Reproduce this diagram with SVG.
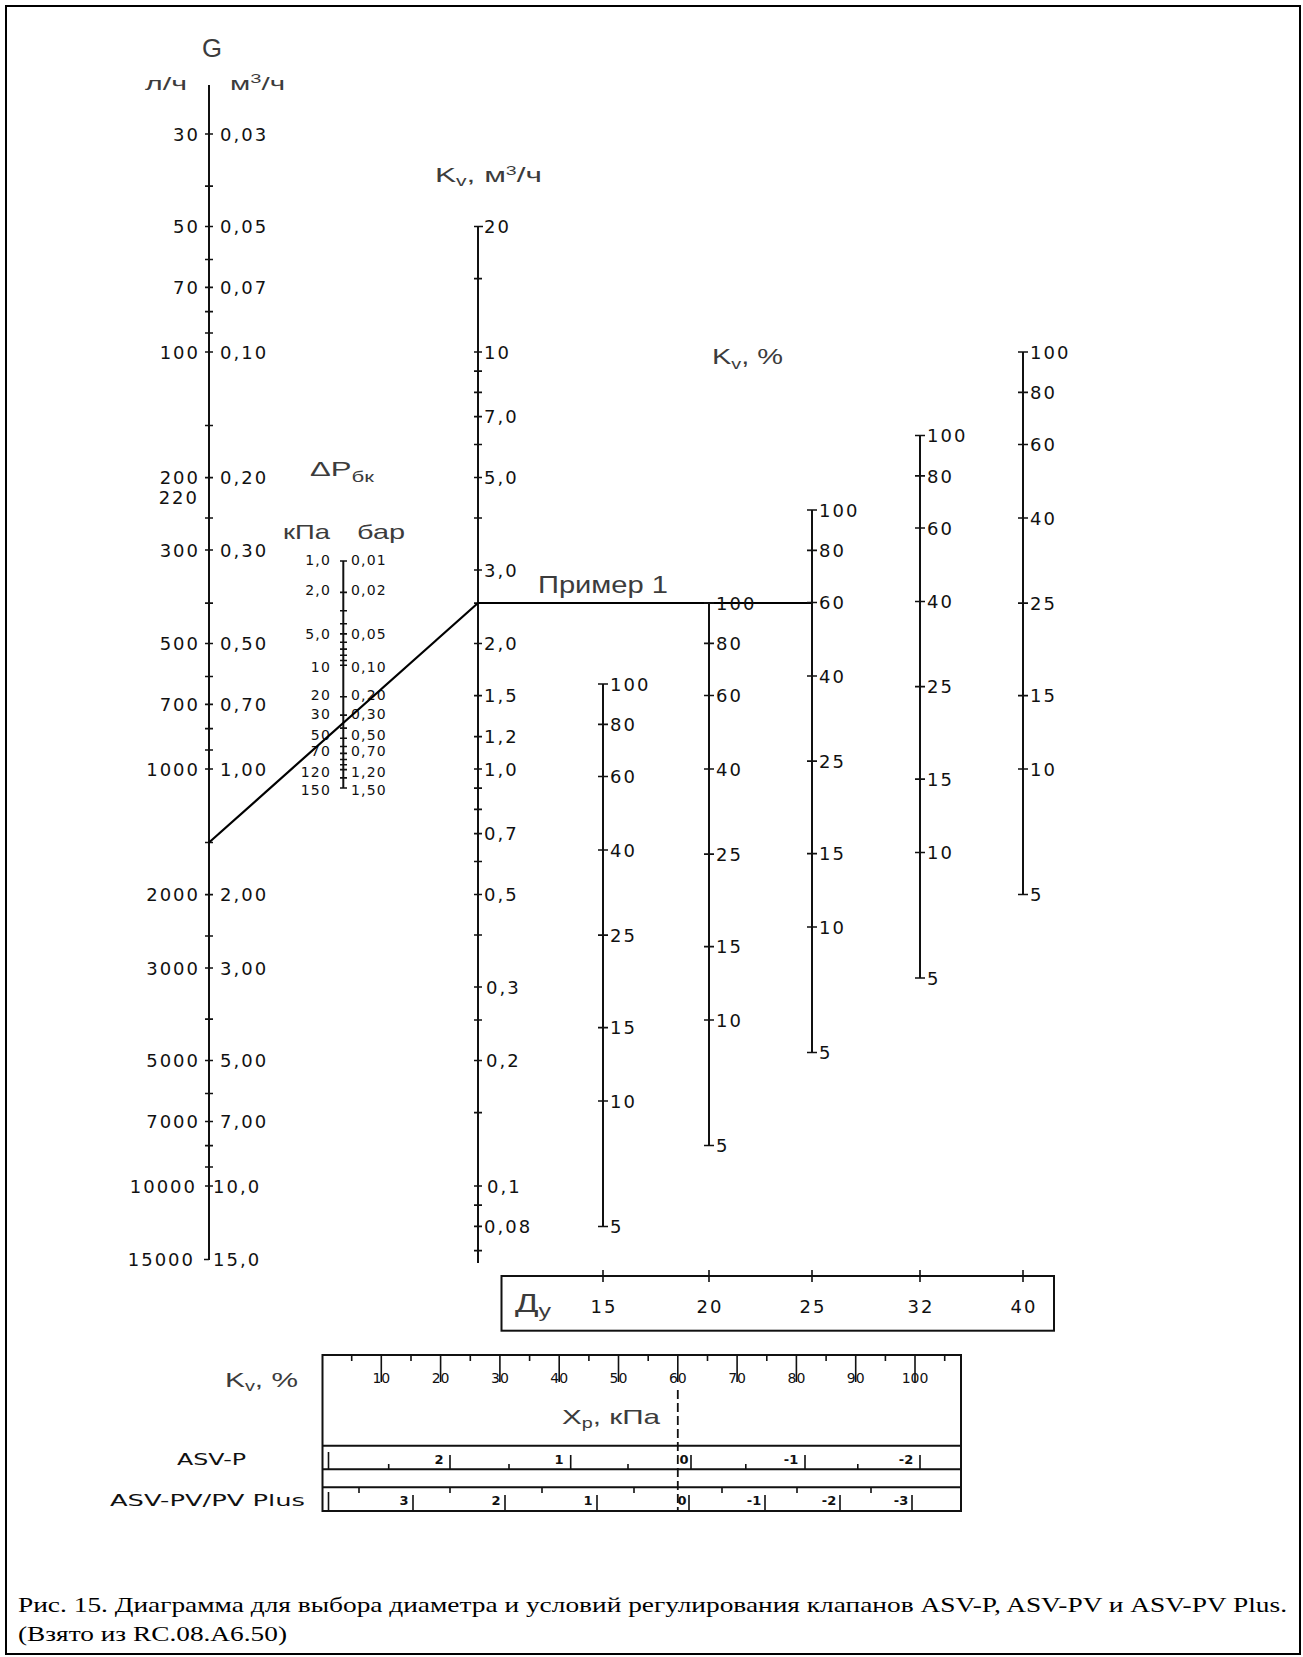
<svg xmlns="http://www.w3.org/2000/svg" width="1303" height="1657" viewBox="0 0 1303 1657">
<style>
.ax{stroke:#111;stroke-width:2;fill:none}
.tk{stroke:#111;stroke-width:1.6;fill:none}
.n{font-family:"DejaVu Sans",sans-serif;font-size:18px;letter-spacing:2px;fill:#111}
.ne{text-anchor:end}
.s{font-family:"DejaVu Sans",sans-serif;font-size:14px;letter-spacing:1.2px;fill:#111}
.sm{font-family:"DejaVu Sans",sans-serif;font-size:14px;fill:#111;text-anchor:middle}
.b{font-family:"DejaVu Sans",sans-serif;font-size:13px;font-weight:bold;fill:#111;text-anchor:middle}
.g{font-family:"Liberation Sans",Arial,sans-serif;fill:#3c3c3c}
.cap{font-family:"Liberation Serif","Times New Roman",serif;font-size:22px;fill:#000}
</style>
<rect x="0" y="0" width="1303" height="1657" fill="#fff"/>
<rect x="6" y="6" width="1294" height="1648" fill="none" stroke="#000" stroke-width="2"/>

<g id="axis-G">
<path class="ax" d="M209 85V1260"/>
<path class="tk" d="M205 134H213M205 186.1H213M205 226.5H213M205 259.5H213M205 287.4H213M205 311.6H213M205 333H213M205 352H213M205 425.5H213M205 477.6H213M205 518H213M205 550H213M205 603.1H213M205 643.5H213M205 676.5H213M205 704.4H213M205 728.6H213M205 750H213M205 769H213M205 842.5H213M205 894.6H213M205 936H213M205 968H213M205 1019.1H213M205 1060.5H213M205 1093.5H213M205 1121.5H213M205 1145.6H213M205 1167H213M205 1186H213M204 1259.5H209"/>
<text class="g" x="202" y="57" font-size="25" textLength="20" lengthAdjust="spacingAndGlyphs">G</text>
<text class="g" x="145" y="90" font-size="19" textLength="42" lengthAdjust="spacingAndGlyphs">л/ч</text>
<text class="g" x="230" y="90" font-size="19" textLength="55" lengthAdjust="spacingAndGlyphs">м<tspan font-size="13" dy="-7">3</tspan><tspan dy="7">/ч</tspan></text>
<g class="n ne">
<text x="200" y="140.5">30</text>
<text x="200" y="233">50</text>
<text x="200" y="294">70</text>
<text x="200" y="358.5">100</text>
<text x="200" y="484">200</text>
<text x="199" y="504">220</text>
<text x="200" y="556.5">300</text>
<text x="200" y="650">500</text>
<text x="200" y="711">700</text>
<text x="200" y="775.5">1000</text>
<text x="200" y="901">2000</text>
<text x="200" y="974.5">3000</text>
<text x="200" y="1067">5000</text>
<text x="200" y="1128">7000</text>
<text x="197" y="1192.5">10000</text>
<text x="195" y="1266">15000</text>
</g>
<g class="n">
<text x="220" y="140.5">0,03</text>
<text x="220" y="233">0,05</text>
<text x="220" y="294">0,07</text>
<text x="220" y="358.5">0,10</text>
<text x="220" y="484">0,20</text>
<text x="220" y="556.5">0,30</text>
<text x="220" y="650">0,50</text>
<text x="220" y="711">0,70</text>
<text x="220" y="775.5">1,00</text>
<text x="220" y="901">2,00</text>
<text x="220" y="974.5">3,00</text>
<text x="220" y="1067">5,00</text>
<text x="220" y="1128">7,00</text>
<text x="213" y="1192.5">10,0</text>
<text x="213" y="1266">15,0</text>
</g>
</g>

<g id="axis-dP">
<text class="g" x="310" y="476" font-size="21" textLength="64" lengthAdjust="spacingAndGlyphs">ΔP<tspan font-size="15" dy="6">бк</tspan></text>
<text class="g" x="283" y="539" font-size="21" textLength="47" lengthAdjust="spacingAndGlyphs">кПа</text>
<text class="g" x="357" y="539" font-size="21" textLength="48" lengthAdjust="spacingAndGlyphs">бар</text>
<path class="ax" d="M343.3 561V788" stroke-width="1.8"/>
<path class="tk" d="M340 561H347M340 592.4H347M340 610.8H347M340 623.8H347M340 633.9H347M340 642.2H347M340 649.1H347M340 655.2H347M340 660.5H347M340 665.3H347M340 696.7H347M340 715.1H347M340 728.1H347M340 738.2H347M340 746.5H347M340 753.4H347M340 759.5H347M340 764.8H347M340 769.6H347M340 777.9H347M340 788H347" stroke-width="1.3"/>
<g class="s" text-anchor="end">
<text x="331" y="565">1,0</text>
<text x="331" y="595">2,0</text>
<text x="331" y="639">5,0</text>
<text x="331" y="672">10</text>
<text x="331" y="700">20</text>
<text x="331" y="719">30</text>
<text x="331" y="740">50</text>
<text x="331" y="756">70</text>
<text x="331" y="777">120</text>
<text x="331" y="795">150</text>
</g>
<g class="s">
<text x="351" y="565">0,01</text>
<text x="351" y="595">0,02</text>
<text x="351" y="639">0,05</text>
<text x="351" y="672">0,10</text>
<text x="351" y="700">0,20</text>
<text x="351" y="719">0,30</text>
<text x="351" y="740">0,50</text>
<text x="351" y="756">0,70</text>
<text x="351" y="777">1,20</text>
<text x="351" y="795">1,50</text>
</g>
</g>

<g id="axis-Kv">
<text class="g" x="435" y="182" font-size="21" textLength="107" lengthAdjust="spacingAndGlyphs">K<tspan font-size="14" dy="4">v</tspan><tspan dy="-4">, м</tspan><tspan font-size="13" dy="-7">3</tspan><tspan dy="7">/ч</tspan></text>
<path class="ax" d="M478 226.5V1263"/>
<path class="tk" d="M474 226.5H483M474 278.6H482M474 352H482M474 371.1H482M474 392.4H482M474 416.6H482M474 444.5H482M474 477.5H482M474 518H482M474 570H482M474 603.1H482M474 643.5H482M474 695.6H482M474 736.6H482M474 769H482M474 788.1H482M474 809.4H482M474 833.6H482M474 861.5H482M474 894.5H482M474 935H482M474 987H482M474 1020H482M474 1060.5H482M474 1112.6H482M474 1186H482M474 1205.1H482M474 1226.4H482M474 1250.6H482"/>
<g class="n">
<text x="484" y="233">20</text>
<text x="484" y="358.5">10</text>
<text x="484" y="423">7,0</text>
<text x="484" y="484">5,0</text>
<text x="484" y="576.5">3,0</text>
<text x="484" y="650">2,0</text>
<text x="484" y="702">1,5</text>
<text x="484" y="743">1,2</text>
<text x="484" y="775.5">1,0</text>
<text x="484" y="840">0,7</text>
<text x="484" y="901">0,5</text>
<text x="486" y="993.5">0,3</text>
<text x="486" y="1067">0,2</text>
<text x="487" y="1192.5">0,1</text>
<text x="484" y="1233">0,08</text>
</g>
</g>

<g id="connectors">
<path d="M209 842.5L478 603" stroke="#000" stroke-width="2.2" fill="none"/>
<path d="M478 603H812" stroke="#000" stroke-width="2.2" fill="none"/>
<text class="g" x="538" y="593" font-size="23" textLength="130" lengthAdjust="spacingAndGlyphs">Пример 1</text>
</g>

<text class="g" x="712" y="364" font-size="22" textLength="71" lengthAdjust="spacingAndGlyphs">K<tspan font-size="15" dy="5">v</tspan><tspan dy="-5">, %</tspan></text>

<g id="col-15">
<path class="ax" d="M603 684V1226.5"/>
<path class="tk" d="M598 684H608M598 724.4H608M598 776.5H608M598 850H608M598 935.1H608M598 1027.6H608M598 1101H608M598 1226.5H608"/>
<g class="n" letter-spacing="1.5">
<text x="610" y="690.5">100</text><text x="610" y="731">80</text><text x="610" y="783">60</text><text x="610" y="856.5">40</text><text x="610" y="941.5">25</text><text x="610" y="1034">15</text><text x="610" y="1107.5">10</text><text x="610" y="1233">5</text>
</g>
</g>
<g id="col-20">
<path class="ax" d="M709 603V1145.5"/>
<path class="tk" d="M704 603H714M704 643.4H714M704 695.5H714M704 769H714M704 854.1H714M704 946.6H714M704 1020H714M704 1145.5H714"/>
<g class="n" letter-spacing="1.5">
<text x="716" y="609.5">100</text><text x="716" y="650">80</text><text x="716" y="702">60</text><text x="716" y="775.5">40</text><text x="716" y="860.5">25</text><text x="716" y="953">15</text><text x="716" y="1026.5">10</text><text x="716" y="1152">5</text>
</g>
</g>
<g id="col-25">
<path class="ax" d="M812 510V1052.5"/>
<path class="tk" d="M807 510H817M807 550.4H817M807 602.5H817M807 676H817M807 761.1H817M807 853.6H817M807 927H817M807 1052.5H817"/>
<g class="n" letter-spacing="1.5">
<text x="819" y="516.5">100</text><text x="819" y="557">80</text><text x="819" y="609">60</text><text x="819" y="682.5">40</text><text x="819" y="767.5">25</text><text x="819" y="860">15</text><text x="819" y="933.5">10</text><text x="819" y="1059">5</text>
</g>
</g>
<g id="col-32">
<path class="ax" d="M920 435.5V978"/>
<path class="tk" d="M915 435.5H925M915 475.9H925M915 528H925M915 601.5H925M915 686.6H925M915 779.1H925M915 852.5H925M915 978H925"/>
<g class="n" letter-spacing="1.5">
<text x="927" y="442">100</text><text x="927" y="482.5">80</text><text x="927" y="534.5">60</text><text x="927" y="608">40</text><text x="927" y="693">25</text><text x="927" y="785.5">15</text><text x="927" y="859">10</text><text x="927" y="984.5">5</text>
</g>
</g>
<g id="col-40">
<path class="ax" d="M1023 352V894.5"/>
<path class="tk" d="M1018 352H1028M1018 392.4H1028M1018 444.5H1028M1018 518H1028M1018 603.1H1028M1018 695.6H1028M1018 769H1028M1018 894.5H1028"/>
<g class="n" letter-spacing="1.5">
<text x="1030" y="358.5">100</text><text x="1030" y="399">80</text><text x="1030" y="451">60</text><text x="1030" y="524.5">40</text><text x="1030" y="609.5">25</text><text x="1030" y="702">15</text><text x="1030" y="775.5">10</text><text x="1030" y="901">5</text>
</g>
</g>

<g id="dn-box">
<rect x="501.5" y="1276" width="552.5" height="54.7" fill="none" stroke="#111" stroke-width="2"/>
<path class="tk" d="M603 1270V1282M709 1270V1282M812 1270V1282M920 1270V1282M1023 1270V1282"/>
<text class="g" x="515" y="1312" font-size="25" textLength="36" lengthAdjust="spacingAndGlyphs">Д<tspan font-size="18" dy="5">у</tspan></text>
<g class="n" text-anchor="middle" letter-spacing="1">
<text x="604" y="1313">15</text><text x="710" y="1313">20</text><text x="813" y="1313">25</text><text x="921" y="1313">32</text><text x="1024" y="1313">40</text>
</g>
</g>

<g id="setting-table">
<rect x="322.5" y="1355" width="638.5" height="156" fill="none" stroke="#111" stroke-width="2"/>
<path class="ax" d="M322.5 1445.7H961M322.5 1469.3H961M322.5 1487.3H961"/>
<path class="tk" d="M381.3 1355V1382M440.6 1355V1382M499.9 1355V1382M559.2 1355V1382M618.5 1355V1382M677.8 1355V1382M737.1 1355V1382M796.4 1355V1382M855.7 1355V1382M915 1355V1382M351.7 1355V1361M411 1355V1361M470.3 1355V1361M529.6 1355V1361M588.9 1355V1361M648.2 1355V1361M707.5 1355V1361M766.8 1355V1361M826.1 1355V1361M885.4 1355V1361M944.7 1355V1361" stroke-width="1.2"/>
<g class="sm">
<text x="381.3" y="1383">10</text><text x="440.6" y="1383">20</text><text x="499.9" y="1383">30</text><text x="559.2" y="1383">40</text><text x="618.5" y="1383">50</text><text x="677.8" y="1383">60</text><text x="737.1" y="1383">70</text><text x="796.4" y="1383">80</text><text x="855.7" y="1383">90</text><text x="915" y="1383">100</text>
</g>
<text class="g" x="225" y="1387" font-size="21" textLength="73" lengthAdjust="spacingAndGlyphs">K<tspan font-size="14" dy="4">v</tspan><tspan dy="-4">, %</tspan></text>
<text class="g" x="562" y="1424" font-size="21" textLength="98" lengthAdjust="spacingAndGlyphs">X<tspan font-size="14" dy="4">p</tspan><tspan dy="-4">, кПа</tspan></text>
<path d="M677.8 1390V1511" stroke="#111" stroke-width="1.8" stroke-dasharray="9 4" fill="none"/>
<path class="tk" d="M328.5 1452V1469M450 1455V1469M570.7 1455V1469M691 1455V1469M805 1455V1469M920 1455V1469M388.7 1464V1469M509 1464V1469M628 1464V1469M745.8 1464V1469M857.8 1464V1469" stroke-width="1.2"/>
<g class="b">
<text x="439" y="1464">2</text><text x="559" y="1464">1</text><text x="684" y="1464">0</text><text x="791" y="1464">-1</text><text x="906" y="1464">-2</text>
</g>
<path class="tk" d="M328.5 1492V1511M413 1495V1511M505 1495V1511M597 1495V1511M689 1495V1511M765 1495V1511M840 1495V1511M912 1495V1511M359 1487V1493M450 1487V1493M542 1487V1493M634 1487V1493M722 1487V1493M797 1487V1493M871 1487V1493" stroke-width="1.2"/>
<g class="b">
<text x="404" y="1505">3</text><text x="496" y="1505">2</text><text x="588" y="1505">1</text><text x="682" y="1505">0</text><text x="754" y="1505">-1</text><text x="829" y="1505">-2</text><text x="901" y="1505">-3</text>
</g>
<text x="177" y="1465" font-family="DejaVu Sans, sans-serif" font-size="16" fill="#111" textLength="69" lengthAdjust="spacingAndGlyphs">ASV-P</text>
<text x="110" y="1506" font-family="DejaVu Sans, sans-serif" font-size="16" fill="#111" textLength="195" lengthAdjust="spacingAndGlyphs">ASV-PV/PV Plus</text>
</g>

<g id="caption">
<text class="cap" x="18" y="1612" textLength="1269" lengthAdjust="spacingAndGlyphs">Рис. 15. Диаграмма для выбора диаметра и условий регулирования клапанов ASV-P, ASV-PV и ASV-PV Plus.</text>
<text class="cap" x="18" y="1641" textLength="269" lengthAdjust="spacingAndGlyphs">(Взято из RC.08.A6.50)</text>
</g>
</svg>
